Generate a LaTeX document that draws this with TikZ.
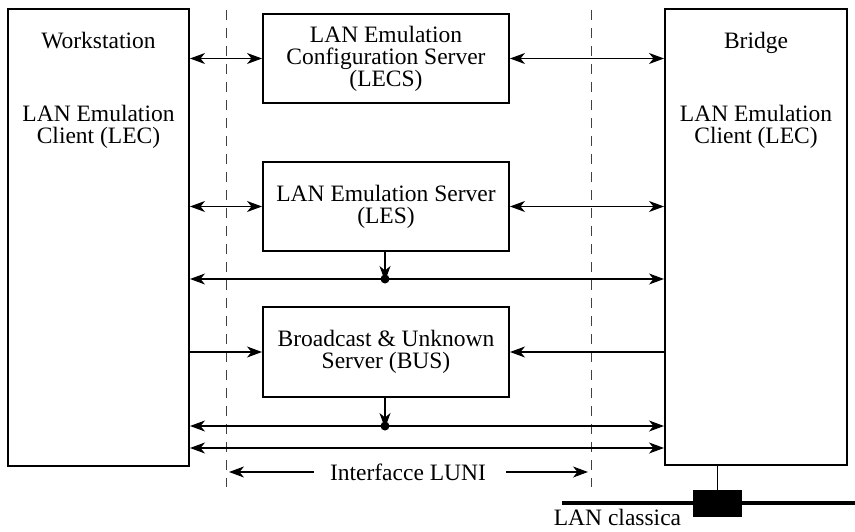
\documentclass[tikz,border=0pt]{standalone}
\usepackage{fontspec}
\setmainfont{Liberation Serif}
\usetikzlibrary{arrows.meta,calc}
\newcommand\diagfs{\fontsize{23.5}{22}\selectfont}
\begin{document}
\begin{tikzpicture}[x=1pt,y=-1pt,
  box/.style={draw,line width=2pt,inner sep=0pt,align=center,font=\diagfs},
  txt/.style={inner sep=0pt,font=\diagfs},
  conn/.style={line width=1.1pt},
  dbl/.style={conn,{Stealth[length=15pt,width=11pt,inset=4.5pt]}-{Stealth[length=15pt,width=11pt,inset=4.5pt]}},
  sgl/.style={conn,-{Stealth[length=15pt,width=11pt,inset=4.5pt]}},
  guide/.style={line width=1pt,black!75,dash pattern=on 10pt off 8pt},
  dot/.style={circle,fill=black,inner sep=0pt,minimum size=9pt}]
\useasboundingbox (0,0) rectangle (855,532);

% end-station boxes
\node[box,minimum width=181,minimum height=457] (ws) at (98.5,237.5) {};
\node[box,minimum width=182,minimum height=456] (br) at (756,237) {};
\node[txt,anchor=base] (wsT) at (98.5,49) {Workstation};
\node[txt,anchor=base] (wsL1) at (98.5,121.7) {LAN Emulation};
\node[txt,anchor=base] (wsL2) at (98.5,143.5) {Client (LEC)};
\node[txt,anchor=base] (brT) at (756,49) {Bridge};
\node[txt,anchor=base] (brL1) at (756,121.7) {LAN Emulation};
\node[txt,anchor=base] (brL2) at (756,143.5) {Client (LEC)};

% servers
\node[box,minimum width=246,minimum height=89] (lecs) at (386,58.5)
  {LAN Emulation\\Configuration Server\\(LECS)};
\node[box,minimum width=246,minimum height=89] (les) at (386,206.5)
  {LAN Emulation Server\\(LES)};
\node[box,minimum width=246,minimum height=90] (bus) at (386,352)
  {Broadcast \& Unknown\\Server (BUS)};

% LUNI guide lines
\coordinate (d1t) at (226,10);
\coordinate (d1b) at (226,487);
\coordinate (d2t) at (591,10);
\coordinate (d2b) at (591,487);
\draw[guide] (d1t) -- (d1b);
\draw[guide] (d2t) -- (d2b);

% connections
\draw[dbl] (lecs.west -| ws.east) -- (lecs.west);
\draw[dbl] (lecs.east) -- (lecs.east -| br.west);
\draw[dbl] (les.west -| ws.east) -- (les.west);
\draw[dbl] (les.east) -- (les.east -| br.west);
\draw[sgl] (bus.west -| ws.east) -- (bus.west);
\draw[sgl] (bus.east -| br.west) -- (bus.east);

\coordinate (dA) at (385,279);
\coordinate (dB) at (385,426);
\coordinate (bcast) at (385,448);
\draw[dbl] (dA -| ws.east) -- (dA -| br.west);
\draw[sgl] (dA |- les.south) -- ([yshift=-2pt]dA);
\node[dot] (dotA) at (dA) {};
\draw[dbl] (dB -| ws.east) -- (dB -| br.west);
\draw[sgl] (dB |- bus.south) -- ([yshift=-2pt]dB);
\node[dot] (dotB) at (dB) {};
\draw[dbl] (bcast -| ws.east) -- (bcast -| br.west);

% interface label
\node[txt] (luni) at (408,472) {Interfacce LUNI};
\draw[sgl] ([xshift=-16pt]luni.west) -- ([xshift=3pt]luni.west -| d1t);
\draw[sgl] ([xshift=20pt]luni.east) -- ([xshift=-3pt]luni.east -| d2t);

% classic LAN
\coordinate (lanL) at (562,503);
\coordinate (lanR) at (855,503);
\draw[line width=3.5pt] (lanL) -- (lanR);
\node[fill=black,inner sep=0pt,minimum width=49,minimum height=27] (lanbox) at (717.5,503.5) {};
\draw[line width=1.2pt] (br.south -| lanbox) -- (lanbox.north);
\node[txt,anchor=base] (lanT) at (617.5,525) {LAN classica};
\end{tikzpicture}
\end{document}
